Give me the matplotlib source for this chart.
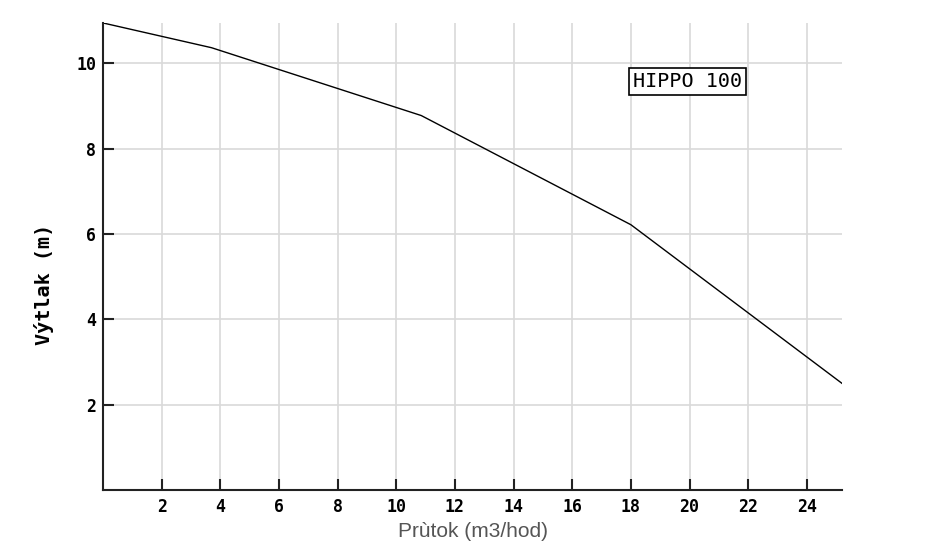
import matplotlib
matplotlib.use('Agg')
import matplotlib.pyplot as plt

# charakteristika čerpadla
prutok = [0.0, 3.7, 10.85, 18.0, 25.2]
vytlak = [10.95, 10.37, 8.78, 6.22, 2.5]

x_ticks = [2, 4, 6, 8, 10, 12, 14, 16, 18, 20, 22, 24]
y_ticks = [2, 4, 6, 8, 10]

MODEL = 'HIPPO 100'

fig = plt.figure(figsize=(9.3, 5.59), dpi=100)
ax = fig.add_axes([0.1108, 0.1234, 0.7946, 0.8355])

ax.plot(prutok, vytlak, color='black', linewidth=1.0)

ax.set_xlim(0, 25.2)
ax.set_ylim(0, 10.95)
ax.set_xticks(x_ticks)
ax.set_yticks(y_ticks)
ax.grid(True, color='#d9d9d9', linewidth=1.2)
ax.set_axisbelow(True)

for side in ['top', 'right']:
    ax.spines[side].set_visible(False)
for side in ['left', 'bottom']:
    ax.spines[side].set_linewidth(1.5)
    ax.spines[side].set_color('#222222')

ax.tick_params(direction='in', length=8, width=1.5, color='#222222')
ax.tick_params(axis='x', pad=6)
ax.tick_params(axis='y', pad=5)
for lbl in ax.get_xticklabels() + ax.get_yticklabels():
    lbl.set_fontfamily('DejaVu Sans Mono')
    lbl.set_fontweight('bold')
    lbl.set_fontsize(12)

ax.set_ylabel('Výtlak (m)', fontfamily='DejaVu Sans Mono', fontweight='bold',
              fontsize=14.5)
# popisek osy y je v originále posunutý níž
ax.yaxis.set_label_coords(-0.066, 0.44)
ax.set_xlabel('Prùtok (m3/hod)', fontfamily='Liberation Sans', fontsize=15,
              color='#555555', labelpad=4)

ax.text(19.93, 9.58, MODEL, fontfamily='DejaVu Sans Mono', fontsize=14.5,
        ha='center', va='center',
        bbox=dict(boxstyle='square,pad=0.2', facecolor='white',
                  edgecolor='black', linewidth=1.2))

fig.savefig('out.png', dpi=100)
